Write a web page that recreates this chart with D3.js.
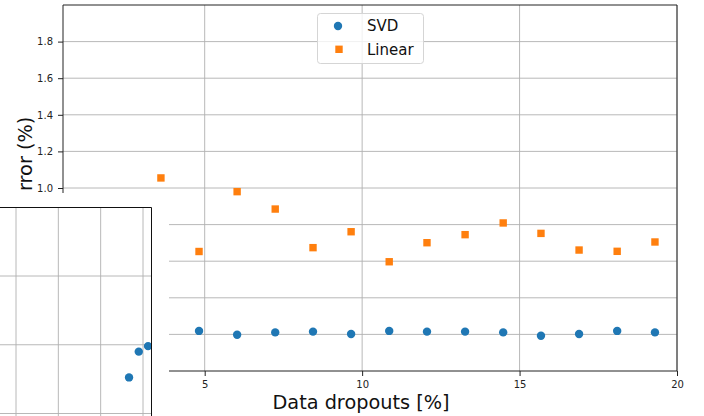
<!DOCTYPE html>
<html>
<head>
<meta charset="utf-8">
<script src="https://cdn.jsdelivr.net/npm/d3@7"></script>
<style>
html,body{margin:0;padding:0;background:#fff;}
svg{display:block;font-family:"DejaVu Sans",sans-serif;}
</style>
</head>
<body>
<svg id="chart" width="704" height="416"></svg>
<script>
// ---- data ----
const dropouts = [3.61, 4.82, 6.03, 7.24, 8.44, 9.65, 10.86, 12.06, 13.27, 14.48, 15.68, 16.89, 18.10, 19.30];
const svdError = [0.210, 0.219, 0.198, 0.211, 0.215, 0.202, 0.219, 0.215, 0.215, 0.211, 0.193, 0.202, 0.219, 0.211];
const linearError = [1.055, 0.653, 0.980, 0.885, 0.674, 0.761, 0.597, 0.701, 0.745, 0.809, 0.752, 0.661, 0.654, 0.705];
const xTicks = [5, 10, 15, 20];
const yTicks = [0.2, 0.4, 0.6, 0.8, 1.0, 1.2, 1.4, 1.6, 1.8];
const yTickLabels = ["0.2", "0.4", "0.6", "0.8", "1.0", "1.2", "1.4", "1.6", "1.8"];
const seriesNames = ["SVD", "Linear"];
// inset (partly visible)
const insetX = [3.67, 3.90, 4.12];
const insetY = [0.105, 0.180, 0.196];
const insetXTicks = [1, 2, 3, 4];
const insetYTicks = [0.0, 0.2, 0.4];

const blue = "#1f77b4", orange = "#ff7f0e", grid = "#b0b0b0";
const svg = d3.select("#chart");

const x = d3.scaleLinear().domain([0.5, 20]).range([63, 677]);
const y = d3.scaleLinear().domain([0, 2]).range([371, 5]);

// grid
const g = svg.append("g");
g.selectAll("line.gx").data(xTicks).join("line")
  .attr("x1", d => x(d)).attr("x2", d => x(d)).attr("y1", y(0)).attr("y2", y(2))
  .attr("stroke", grid).attr("stroke-width", 0.9);
g.selectAll("line.gy").data(yTicks).join("line")
  .attr("x1", x(0.5)).attr("x2", x(20)).attr("y1", d => y(d)).attr("y2", d => y(d))
  .attr("stroke", grid).attr("stroke-width", 0.9);

// points
svg.append("g").selectAll("circle").data(dropouts.map((d, i) => [d, svdError[i]])).join("circle")
  .attr("cx", d => x(d[0])).attr("cy", d => y(d[1])).attr("r", 4.2).attr("fill", blue);
const sq = 7.4;
svg.append("g").selectAll("rect").data(dropouts.map((d, i) => [d, linearError[i]])).join("rect")
  .attr("x", d => x(d[0]) - sq / 2).attr("y", d => y(d[1]) - sq / 2)
  .attr("width", sq).attr("height", sq).attr("fill", orange);

// spines
const sp = svg.append("g").attr("stroke", "#222").attr("stroke-width", 1).attr("fill", "none");
sp.append("line").attr("x1", x(0.5)).attr("x2", x(0.5)).attr("y1", y(0)).attr("y2", y(2));
sp.append("line").attr("x1", x(20)).attr("x2", x(20)).attr("y1", y(0)).attr("y2", y(2));
sp.append("line").attr("x1", x(0.5)).attr("x2", x(20)).attr("y1", y(2)).attr("y2", y(2));
sp.append("line").attr("x1", x(0.5)).attr("x2", x(20)).attr("y1", y(0)).attr("y2", y(0));

// axes ticks
const xAxis = d3.axisBottom(x).tickValues(xTicks).tickFormat(d3.format("d")).tickSize(5).tickPadding(5);
const xa = svg.append("g").attr("transform", `translate(0,${y(0)})`).call(xAxis);
xa.select(".domain").remove();
xa.selectAll("text").attr("font-family", "DejaVu Sans").attr("font-size", 10).attr("fill", "#222");
xa.selectAll("line").attr("stroke", "#222");

const yAxis = d3.axisLeft(y).tickValues(yTicks).tickFormat((d, i) => yTickLabels[i]).tickSize(5).tickPadding(5);
const ya = svg.append("g").attr("transform", `translate(${x(0.5)},0)`).call(yAxis);
ya.select(".domain").remove();
ya.selectAll("text").attr("font-family", "DejaVu Sans").attr("font-size", 10).attr("fill", "#222");
ya.selectAll("line").attr("stroke", "#222");

// white cover of inset figure area
svg.append("rect").attr("x", 0).attr("y", 193).attr("width", 169).attr("height", 223).attr("fill", "#fff");

// inset axes
const ix = d3.scaleLinear().domain([1, 4]).range([16, 143]);
const iy = d3.scaleLinear().domain([0, 0.4]).range([413.5, 276]);
const ig = svg.append("g");
ig.append("clipPath").attr("id", "insetClip").append("rect").attr("x", -10).attr("y", 207.5).attr("width", 161.5).attr("height", 230);
const inner = ig.append("g").attr("clip-path", "url(#insetClip)");
inner.selectAll("line.ix").data(insetXTicks).join("line")
  .attr("x1", d => ix(d)).attr("x2", d => ix(d)).attr("y1", 207.5).attr("y2", 416)
  .attr("stroke", grid).attr("stroke-width", 0.9);
inner.selectAll("line.iy").data(insetYTicks).join("line")
  .attr("x1", 0).attr("x2", 151.5).attr("y1", d => iy(d)).attr("y2", d => iy(d))
  .attr("stroke", grid).attr("stroke-width", 0.9);
inner.selectAll("circle").data(insetX.map((d, i) => [d, insetY[i]])).join("circle")
  .attr("cx", d => ix(d[0])).attr("cy", d => iy(d[1])).attr("r", 4.2).attr("fill", blue);
ig.append("line").attr("x1", 0).attr("x2", 151.5).attr("y1", 207.5).attr("y2", 207.5).attr("stroke", "#111");
ig.append("line").attr("x1", 151.5).attr("x2", 151.5).attr("y1", 207.5).attr("y2", 416).attr("stroke", "#111");

// labels
svg.append("text").attr("x", 361).attr("y", 409).attr("text-anchor", "middle")
  .attr("font-size", 19.3).attr("fill", "#111").text("Data dropouts [%]");
svg.append("text").attr("transform", "translate(32,191) rotate(-90)").attr("text-anchor", "start")
  .attr("font-size", 19.3).attr("fill", "#111").text("rror (%)");

// legend
const lg = svg.append("g");
lg.append("rect").attr("x", 317.5).attr("y", 13.5).attr("width", 106).attr("height", 50).attr("rx", 3)
  .attr("fill", "#fff").attr("fill-opacity", 0.8).attr("stroke", "#d5d5d5");
lg.append("circle").attr("cx", 338).attr("cy", 26).attr("r", 4.2).attr("fill", blue);
lg.append("rect").attr("x", 339 - sq / 2).attr("y", 49.3 - sq / 2).attr("width", sq).attr("height", sq).attr("fill", orange);
lg.selectAll("text").data(seriesNames).join("text")
  .attr("x", 367).attr("y", (d, i) => 31 + i * 23.5)
  .attr("font-size", 15).attr("fill", "#111").text(d => d);
</script>
</body>
</html>
